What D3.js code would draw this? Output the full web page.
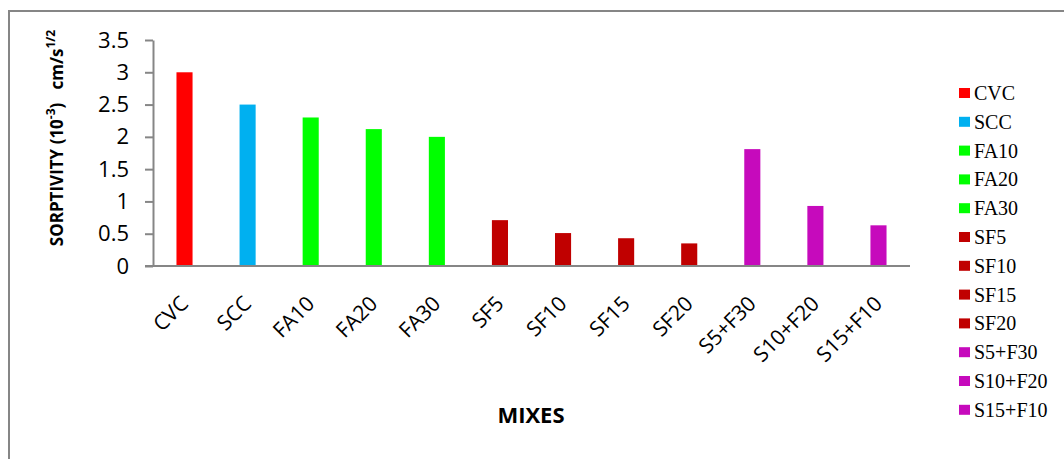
<!DOCTYPE html>
<html>
<head>
<meta charset="utf-8">
<script src="https://cdn.jsdelivr.net/npm/d3@7"></script>
<style>
  html, body { margin: 0; padding: 0; background: #fff; }
  svg { display: block; }
</style>
</head>
<body>
<svg id="chart" width="1064" height="459"></svg>
<script>
// Sorptivity of each concrete mix (x10^-3 cm/s^1/2)
const mixes = ["CVC", "SCC", "FA10", "FA20", "FA30", "SF5", "SF10", "SF15", "SF20", "S5+F30", "S10+F20", "S15+F10"];
const sorptivity = [3.0, 2.5, 2.3, 2.12, 2.0, 0.71, 0.51, 0.43, 0.35, 1.81, 0.93, 0.63];
const mixGroup = ["cvc", "scc", "fa", "fa", "fa", "sf", "sf", "sf", "sf", "blend", "blend", "blend"];
const yTicks = [0, 0.5, 1, 1.5, 2, 2.5, 3, 3.5];

const groupColor = {
  cvc: "#FF0000",
  scc: "#00B0F0",
  fa: "#00FF00",
  sf: "#C00000",
  blend: "#C60ABC"
};

const svg = d3.select("#chart");
const axisGrey = "#868686";
const sans = "'Open Sans', 'Liberation Sans', sans-serif";

// Outer chart frame
svg.append("rect")
  .attr("x", 9).attr("y", 11)
  .attr("width", 1080).attr("height", 470)
  .attr("fill", "none").attr("stroke", axisGrey).attr("stroke-width", 2);

const plot = { left: 153, right: 910, top: 40, bottom: 266 };

const x = d3.scaleBand()
  .domain(mixes)
  .range([plot.left, plot.right])
  .paddingInner(0.745)
  .paddingOuter(0.372);

const y = d3.scaleLinear()
  .domain([0, 3.5])
  .range([plot.bottom, plot.top]);

// Bars
svg.append("g").selectAll("rect")
  .data(mixes)
  .join("rect")
  .attr("x", d => x(d))
  .attr("width", x.bandwidth())
  .attr("y", (d, i) => y(sorptivity[i]))
  .attr("height", (d, i) => y(0) - y(sorptivity[i]))
  .attr("fill", (d, i) => groupColor[mixGroup[i]]);

// Value axis
const yAxis = svg.append("g")
  .attr("transform", `translate(${plot.left},0)`)
  .call(d3.axisLeft(y).tickValues(yTicks).tickSize(8).tickSizeOuter(0).tickFormat(d3.format("")).tickPadding(16));
yAxis.select(".domain").attr("stroke", axisGrey).attr("stroke-width", 2);
yAxis.selectAll(".tick line").attr("stroke", axisGrey).attr("stroke-width", 2);
yAxis.selectAll(".tick text")
  .attr("fill", "#000")
  .style("font-family", sans)
  .style("font-size", "22px");

// Category axis line
svg.append("line")
  .attr("x1", plot.left - 8).attr("x2", plot.right)
  .attr("y1", plot.bottom).attr("y2", plot.bottom)
  .attr("stroke", axisGrey).attr("stroke-width", 2);

// Rotated category labels
svg.append("g").selectAll("text")
  .data(mixes)
  .join("text")
  .attr("transform", d => `translate(${x(d) + x.bandwidth() / 2 + 5},305) rotate(-45)`)
  .attr("text-anchor", "end")
  .style("font-family", sans)
  .style("font-size", "21px")
  .attr("fill", "#000")
  .text(d => d);

// Axis titles
svg.append("text")
  .attr("x", 531).attr("y", 423)
  .attr("text-anchor", "middle")
  .style("font-family", sans)
  .style("font-size", "22px")
  .style("font-weight", "bold")
  .text("MIXES");

const yTitle = svg.append("text")
  .attr("transform", "translate(63,138) rotate(-90)")
  .attr("text-anchor", "middle")
  .style("font-family", sans)
  .style("font-size", "17px")
  .style("font-weight", "bold")
  .style("white-space", "pre");
yTitle.append("tspan").text("SORPTIVITY (10");
yTitle.append("tspan").attr("baseline-shift", "super").style("font-size", "12px").text("-3");
yTitle.append("tspan").text(")   cm/s");
yTitle.append("tspan").attr("baseline-shift", "super").style("font-size", "12px").text("1/2");

// Legend
const legend = svg.append("g").selectAll("g")
  .data(mixes)
  .join("g")
  .attr("transform", (d, i) => `translate(959,${93 + i * 28.8})`);
legend.append("rect")
  .attr("x", 0).attr("y", -5)
  .attr("width", 11).attr("height", 10)
  .attr("fill", (d, i) => groupColor[mixGroup[i]]);
legend.append("text")
  .attr("x", 15).attr("y", 7)
  .style("font-family", "'Liberation Serif', 'Times New Roman', serif")
  .style("font-size", "20px")
  .attr("fill", "#000")
  .text(d => d);
</script>
</body>
</html>
